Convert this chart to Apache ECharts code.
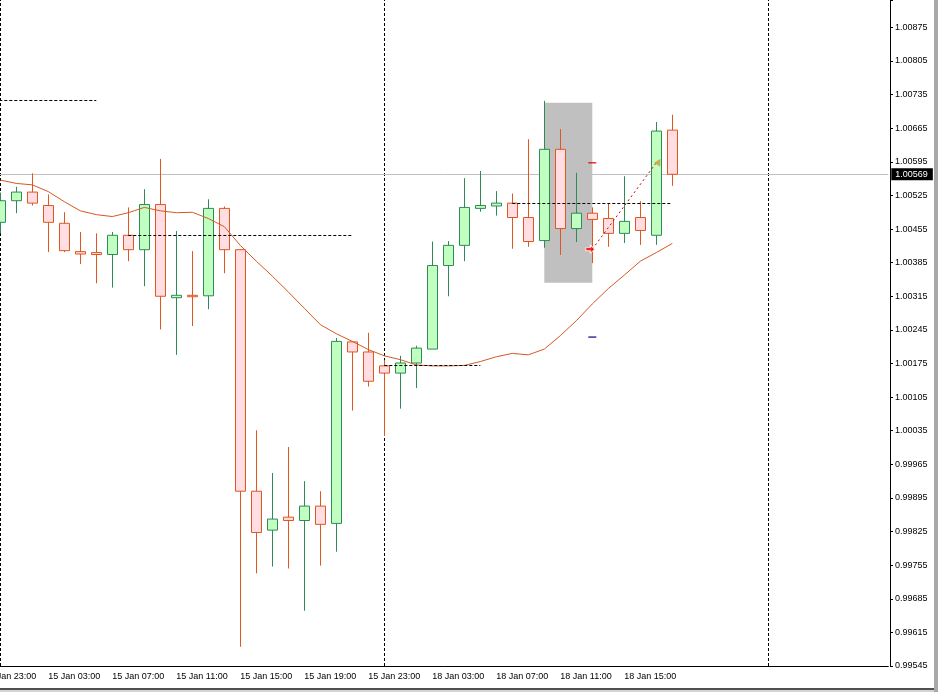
<!DOCTYPE html>
<html><head><meta charset="utf-8">
<script src="https://cdn.jsdelivr.net/npm/echarts@6.0.0/dist/echarts.min.js"></script>
<style>html,body{margin:0;padding:0;background:#fff}#c{width:938px;height:692px}</style>
</head><body><div id="c"></div>
<script>
// ---- data ----
const categories = [
 '14 Jan 23:00',
 '15 Jan 00:00','15 Jan 01:00','15 Jan 02:00','15 Jan 03:00','15 Jan 04:00','15 Jan 05:00','15 Jan 06:00','15 Jan 07:00',
 '15 Jan 08:00','15 Jan 09:00','15 Jan 10:00','15 Jan 11:00','15 Jan 12:00','15 Jan 13:00','15 Jan 14:00','15 Jan 15:00',
 '15 Jan 16:00','15 Jan 17:00','15 Jan 18:00','15 Jan 19:00','15 Jan 20:00','15 Jan 21:00','15 Jan 22:00','15 Jan 23:00',
 '18 Jan 00:00','18 Jan 01:00','18 Jan 02:00','18 Jan 03:00','18 Jan 04:00','18 Jan 05:00','18 Jan 06:00','18 Jan 07:00',
 '18 Jan 08:00','18 Jan 09:00','18 Jan 10:00','18 Jan 11:00','18 Jan 12:00','18 Jan 13:00','18 Jan 14:00','18 Jan 15:00',
 '18 Jan 16:00','18 Jan 17:00','18 Jan 18:00','18 Jan 19:00','18 Jan 20:00','18 Jan 21:00','18 Jan 22:00','18 Jan 23:00',
 '19 Jan 00:00','19 Jan 01:00','19 Jan 02:00','19 Jan 03:00','19 Jan 04:00','19 Jan 05:00','19 Jan 06:00','19 Jan 07:00'
];
// bars from 15 Jan 00:00 to 18 Jan 18:00
const opens = [1.00469,1.00514,1.00532,1.00504,1.00467,1.00408,1.00406,1.00402,1.00442,1.00412,
 1.00506,1.00312,1.00317,1.00316,1.00498,1.00412,0.99909,0.99828,0.99855,0.99848,
 0.99878,0.99842,1.00220,1.00199,1.00170,1.00155,1.00176,1.00205,1.00379,1.00421,
 1.00498,1.00503,1.00509,1.00479,1.00431,1.00621,1.00456,1.00488,1.00477,1.00446,
 1.00479,1.00442,1.00661];
const closes = [1.00514,1.00532,1.00509,1.00469,1.00410,1.00403,1.00402,1.00442,1.00412,1.00506,
 1.00315,1.00317,1.00314,1.00498,1.00412,0.99909,0.99823,0.99851,0.99848,0.99878,
 0.99840,1.00221,1.00199,1.00138,1.00155,1.00176,1.00207,1.00379,1.00421,1.00500,
 1.00504,1.00509,1.00479,1.00429,1.00621,1.00456,1.00488,1.00475,1.00446,1.00471,
 1.00452,1.00659,1.00569];
const lows = [1.00446,1.00488,1.00504,1.00407,1.00407,1.00382,1.00342,1.00333,1.00388,1.00336,
 1.00246,1.00193,1.00253,1.00288,1.00363,0.99585,0.99738,0.99752,0.99748,0.99660,
 0.99754,0.99783,1.00077,1.00127,1.00024,1.00081,1.00124,1.00205,1.00315,1.00388,
 1.00491,1.00483,1.00414,1.00418,1.00416,1.00401,1.00428,1.00384,1.00418,1.00426,
 1.00422,1.00422,1.00545];
const highs = [1.00531,1.00543,1.00571,1.00527,1.00490,1.00449,1.00446,1.00449,1.00500,1.00538,
 1.00601,1.00451,1.00409,1.00517,1.00502,1.00413,1.00036,0.99947,1.00001,0.99930,
 0.99909,1.00228,1.00221,1.00239,1.00182,1.00191,1.00212,1.00429,1.00430,1.00561,
 1.00576,1.00534,1.00529,1.00642,1.00722,1.00663,1.00572,1.00500,1.00509,1.00565,
 1.00513,1.00678,1.00693];
const maValues = [1.00557,1.00550,1.00547,1.00533,1.00512,1.00493,1.00485,1.00481,1.00489,1.00500,
 1.00493,1.00489,1.00490,1.00477,1.00460,1.00421,1.00388,1.00357,1.00324,1.00290,
 1.00256,1.00237,1.00221,1.00204,1.00191,1.00183,1.00172,1.00170,1.00170,1.00171,
 1.00179,1.00189,1.00196,1.00193,1.00205,1.00233,1.00264,1.00299,1.00331,1.00359,
 1.00388,1.00406,1.00425];
const xTickLabels = ['14 Jan 23:00','15 Jan 03:00','15 Jan 07:00','15 Jan 11:00','15 Jan 15:00','15 Jan 19:00',
 '15 Jan 23:00','18 Jan 03:00','18 Jan 07:00','18 Jan 11:00','18 Jan 15:00'];
const yTickLabels = ['0.99545','0.99615','0.99685','0.99755','0.99825','0.99895','0.99965','1.00035','1.00105','1.00175',
 '1.00245','1.00315','1.00385','1.00455','1.00525','1.00595','1.00665','1.00735','1.00805','1.00875'];
const yMin = 0.99545, yMax = 1.00932, yStep = 0.0007;
const bidPrice = 1.00569;
const daySeparators = ['15 Jan 00:00','18 Jan 00:00','19 Jan 00:00'];
const levelFrom  = ['14 Jan 23:00','15 Jan 08:00','18 Jan 00:00','18 Jan 08:00'];
const levelTo    = ['15 Jan 06:00','15 Jan 22:00','18 Jan 06:00','18 Jan 18:00'];
const levelPrice = [1.00723, 1.00442, 1.00171, 1.00509];
const boxFrom = ['18 Jan 10:00', 1.00718];
const boxTo   = ['18 Jan 13:00', 1.00343];
const tradeOpen  = ['18 Jan 13:00', 1.00413];
const tradeClose = ['18 Jan 17:00', 1.00593];
const stopMarks  = [['18 Jan 13:00', 1.00593], ['18 Jan 13:00', 1.00230]];

// ---- build ----
const candleData = ['-'].concat(opens.map((o, i) => [o, closes[i], lows[i], highs[i]]));
const maData = ['-'].concat(maValues);
const FONT = 'Liberation Sans';
const showTick = (idx, val) => xTickLabels.indexOf(categories[idx]) >= 0;

const chart = echarts.init(document.getElementById('c'), null, {renderer: 'canvas'});
chart.setOption({
  backgroundColor: '#ffffff',
  animation: false,
  grid: {left: -23.7, right: 49.7, top: 0, bottom: 26, containLabel: false, outerBoundsMode: 'none'},
  xAxis: {
    type: 'category', data: categories, boundaryGap: true,
    axisLine: {lineStyle: {color: '#000', width: 1}},
    axisTick: {alignWithLabel: true, interval: showTick, length: 3, lineStyle: {color: '#000'}},
    axisLabel: {interval: showTick, align: 'left', margin: 6, fontSize: 9, fontFamily: FONT, color: '#000'},
    splitLine: {show: false}
  },
  yAxis: [
    {type: 'value', min: yMin, max: yMax, show: false, scale: true, splitLine: {show: false}},
    {type: 'value', position: 'right', offset: 1.7, min: 0, max: (yMax - yMin) / yStep, interval: 1,
     axisLine: {show: true, lineStyle: {color: '#000', width: 1}},
     axisTick: {show: true, length: 3, lineStyle: {color: '#000'}},
     axisLabel: {margin: 5, fontSize: 9, fontFamily: FONT, color: '#000',
       formatter: v => yTickLabels[Math.round(v)] || ''},
     splitLine: {show: false}}
  ],
  series: [
    {
      type: 'candlestick', name: 'price', data: candleData, yAxisIndex: 0, z: 3,
      barWidth: 10,
      itemStyle: {color: '#c0ffc0', color0: '#ffdde2', borderColor: '#2e8b57', borderColor0: '#e0561e', borderWidth: 1},
      markArea: {z: 1, silent: true,
        itemStyle: {color: '#c0c0c0', opacity: 1},
        data: [[{coord: boxFrom}, {coord: boxTo}]]}
    },
    {
      type: 'line', name: 'MA', data: maData, yAxisIndex: 0, z: 4, symbol: 'none',
      lineStyle: {color: '#d35a22', width: 1},
      markLine: {z: 1, silent: true, precision: 5, symbol: ['none', 'none'],
        lineStyle: {color: '#000', type: [3, 2], width: 1}, label: {show: false},
        data: daySeparators.map(d => ({xAxis: d})).concat([{
          yAxis: bidPrice,
          lineStyle: {color: '#c0c0c0', type: 'solid', width: 1},
          label: {show: true, position: 'end', distance: 3, formatter: () => bidPrice.toFixed(5),
            color: '#fff', backgroundColor: '#000', padding: [2, 5, 1, 4], fontSize: 9, fontFamily: FONT}
        }])}
    },
    {
      type: 'scatter', name: 'stops', yAxisIndex: 0, z: 6, symbol: 'rect', symbolSize: [8, 1.5],
      data: [
        {value: stopMarks[0], itemStyle: {color: '#e00000'}},
        {value: stopMarks[1], itemStyle: {color: '#000080'}}
      ],
      markLine: {z: 5, silent: true, precision: 5, symbol: ['none', 'none'],
        lineStyle: {color: '#000', type: [3, 2], width: 1}, label: {show: false},
        data: levelPrice.map((p, i) => [{coord: [levelFrom[i], p]}, {coord: [levelTo[i], p]}])}
    },
    {
      type: 'scatter', name: 'trade', yAxisIndex: 0, z: 7,
      data: [
        {value: tradeOpen, symbol: 'path://M0,3L5,3L5,0L10,5L5,10L5,7L0,7Z', symbolSize: [9, 8], symbolOffset: [-2, 0],
         itemStyle: {color: '#ff0000', borderColor: '#ffffff', borderWidth: 1}},
        {value: tradeClose, symbol: 'path://M0,5L9,0L9,10Z', symbolSize: [6, 8], symbolOffset: [1, 0],
         itemStyle: {color: '#cc9933'}}
      ],
      markLine: {z: 6, silent: true, precision: 5, symbol: ['none', 'none'],
        lineStyle: {color: '#cc0000', type: [2, 3], width: 1}, label: {show: false},
        data: [[{coord: tradeOpen}, {coord: tradeClose}]]}
    }
  ],
  graphic: [
    {type: 'rect', shape: {x: 934, y: 0, width: 4, height: 692}, style: {fill: '#a8a8a8'}, silent: true},
    {type: 'rect', shape: {x: 0, y: 688, width: 934, height: 2}, style: {fill: '#505050'}, silent: true},
    {type: 'rect', shape: {x: 0, y: 690, width: 934, height: 2}, style: {fill: '#d4d4d4'}, silent: true}
  ]
});
</script>
</body></html>
